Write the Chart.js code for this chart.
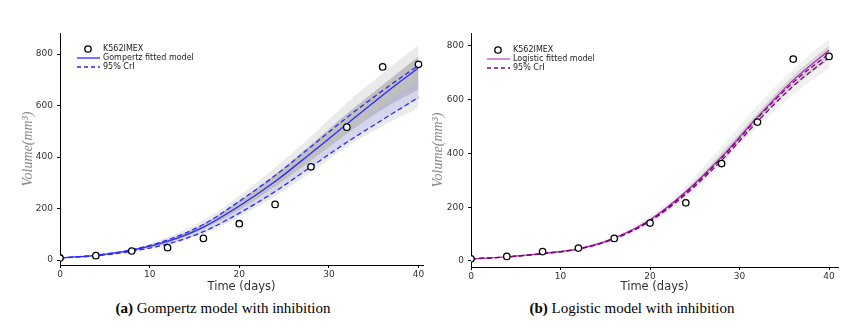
<!DOCTYPE html>
<html>
<head>
<meta charset="utf-8">
<script src="https://cdn.jsdelivr.net/npm/chart.js@4/dist/chart.umd.min.js"></script>
<style>
  body { margin: 0; background: #fff; width: 865px; height: 330px; overflow: hidden; position: relative; }
  .panel { position: absolute; top: 0; }
  .caption { position: absolute; top: 300px; font-family: "Liberation Serif", "Times New Roman", serif; font-size: 15px; color: #000; white-space: nowrap; transform: translateX(-50%); }
</style>
</head>
<body>
<div class="panel" style="left:0px"><canvas id="chartA" width="430" height="300"></canvas></div>
<div class="panel" style="left:430px"><canvas id="chartB" width="435" height="300"></canvas></div>
<div class="caption" style="left:223px"><b>(a)</b> Gompertz model with inhibition</div>
<div class="caption" style="left:632px"><b>(b)</b> Logistic model with inhibition</div>
<script>
// time points (days)
const days = [0, 4, 8, 12, 16, 20, 24, 28, 32, 36, 40];
// observed tumour volume K562IMEX
const observed = [8, 17, 35, 48, 84, 141, 216, 362, 516, 750, 760];
const yTicks = [0, 200, 400, 600, 800];
const xTicks = [0, 10, 20, 30, 40];

// Gompertz fit
const gompFit   = [8, 18, 38, 72, 128, 210, 305, 415, 528, 640, 747];
const gompUpper = [8, 19, 40, 78, 138, 228, 328, 440, 553, 658, 756];
const gompLower = [8, 16, 34, 62, 110, 182, 266, 362, 457, 545, 632];
const gompBandHi  = [9, 21, 43, 88, 155, 250, 358, 480, 610, 725, 835];
const gompBandLo  = [7, 15, 32, 58, 102, 168, 248, 340, 440, 520, 590];
const gompCoreHi  = [8, 19, 40, 80, 140, 230, 332, 448, 568, 680, 790];
const gompCoreLo  = [8, 17, 36, 68, 120, 195, 285, 385, 490, 585, 662];
const gompTintHi  = [8, 17, 37, 68, 118, 196, 285, 385, 495, 600, 700];
const gompTintLo  = [8, 16, 34, 62, 108, 178, 262, 360, 455, 545, 625];

// Logistic fit
const logiFit   = [8, 15, 28, 45, 85, 153, 257, 387, 535, 672, 783];
const logiUpper = [8, 15, 28, 45, 84, 151, 254, 383, 530, 664, 770];
const logiLower = [8, 15, 27, 44, 82, 148, 248, 374, 518, 650, 757];
const logiBandHi = [9, 16, 30, 50, 92, 168, 280, 425, 578, 712, 825];
const logiBandLo = [7, 13, 25, 40, 76, 136, 232, 360, 498, 620, 715];
const logiCoreHi = [8, 15, 29, 47, 88, 158, 265, 402, 550, 688, 800];
const logiCoreLo = [8, 14, 27, 43, 81, 146, 246, 372, 515, 646, 748];

const pts = arr => days.map((d, i) => ({ x: d, y: arr[i] }));

// small legend drawn inside the plot area (canvas coords)
const miniLegend = {
  id: 'miniLegend',
  afterDatasetsDraw(chart) {
    const o = chart.options.plugins.miniLegend;
    if (!o) return;
    const c = chart.ctx;
    c.save();
    c.font = '8px "DejaVu Sans", sans-serif';
    c.textBaseline = 'middle';
    // circle marker
    c.beginPath();
    c.arc(o.x + 11, o.y, 3.2, 0, Math.PI * 2);
    c.fillStyle = '#fff';
    c.fill();
    c.lineWidth = 1.3;
    c.strokeStyle = '#000';
    c.stroke();
    c.fillStyle = '#222';
    c.fillText(o.labels[0], o.x + 26, o.y);
    // solid line
    c.strokeStyle = o.solid;
    c.lineWidth = 1.3;
    c.beginPath();
    c.moveTo(o.x, o.y + 9); c.lineTo(o.x + 23, o.y + 9); c.stroke();
    c.fillText(o.labels[1], o.x + 26, o.y + 9);
    // dashed line
    c.strokeStyle = o.dashed;
    c.setLineDash([4, 3]);
    c.beginPath();
    c.moveTo(o.x, o.y + 18); c.lineTo(o.x + 23, o.y + 18); c.stroke();
    c.setLineDash([]);
    c.fillText(o.labels[2], o.x + 26, o.y + 18);
    c.restore();
  }
};

// filled ribbon between two edge arrays (drawn underneath)
function band(hi, lo, color, order) {
  return [
    { data: pts(hi), order, showLine: true, borderWidth: 0, pointRadius: 0, fill: '+1', backgroundColor: color, cubicInterpolationMode: 'monotone' },
    { data: pts(lo), order, showLine: true, borderWidth: 0, pointRadius: 0, fill: false, cubicInterpolationMode: 'monotone' }
  ];
}

function curve(arr, color, dash) {
  return { data: pts(arr), order: 2, showLine: true, borderColor: color, borderWidth: 1.3, borderDash: dash || [], pointRadius: 0, fill: false, cubicInterpolationMode: 'monotone' };
}

function makeChart(id, cfg) {
  return new Chart(document.getElementById(id), {
    type: 'scatter',
    data: { datasets: cfg.datasets },
    options: {
      responsive: false,
      animation: false,
      devicePixelRatio: 1,
      layout: { padding: { top: 33, right: cfg.padRight, left: 0, bottom: 0 } },
      plugins: {
        legend: { display: false },
        tooltip: { enabled: false },
        miniLegend: cfg.legend
      },
      scales: {
        x: {
          type: 'linear', min: 0, max: cfg.xMax,
          afterFit: s => { s.height = cfg.xAxisH; },
          afterBuildTicks: a => { a.ticks = xTicks.map(v => ({ value: v })); },
          grid: { drawOnChartArea: false, tickLength: 3, color: '#000' },
          border: { color: '#000', width: 1 },
          ticks: { color: '#333', padding: 1, font: { family: 'DejaVu Sans', size: 9 } },
          title: { display: true, text: 'Time (days)', color: '#333', padding: { top: 0, bottom: 6 }, font: { family: 'DejaVu Sans', size: 11.5 } }
        },
        y: {
          type: 'linear', min: cfg.yMin, max: cfg.yMax,
          afterFit: s => { s.width = cfg.yAxisW; },
          afterBuildTicks: a => { a.ticks = yTicks.map(v => ({ value: v })); },
          grid: { drawOnChartArea: false, tickLength: 3, color: '#000' },
          border: { color: '#000', width: 1 },
          ticks: { color: '#333', padding: 4, font: { family: 'DejaVu Sans', size: 9 } },
          title: { display: true, text: 'Volume(mm³)', color: '#888', padding: { top: cfg.titlePad, bottom: 0 }, font: { family: 'Liberation Serif', size: 14, style: 'italic' } }
        }
      }
    },
    plugins: [miniLegend]
  });
}

function observedSet() {
  return {
    data: pts(observed), order: 0, showLine: false, pointRadius: 3.2, pointBorderWidth: 1.3,
    pointBorderColor: '#000', pointBackgroundColor: '#fff'
  };
}

makeChart('chartA', {
  padRight: 7, xMax: 40.5, yMin: -19.4, yMax: 881.6, xAxisH: 35, yAxisW: 60, titlePad: 20,
  legend: { x: 77, y: 49, solid: '#2a2aff', dashed: '#2a2aff', labels: ['K562IMEX', 'Gompertz fitted model', '95% CrI'] },
  datasets: [
    ...band(gompBandHi, gompBandLo, 'rgba(150,150,150,0.2)', 12),
    ...band(gompCoreHi, gompCoreLo, 'rgba(140,140,140,0.45)', 11),
    ...band(gompTintHi, gompTintLo, 'rgba(175,175,240,0.35)', 10),
    curve(gompUpper, '#2a2aff', [5, 3]),
    curve(gompLower, '#2a2aff', [5, 3]),
    curve(gompFit, '#2a2aff'),
    observedSet()
  ]
});

makeChart('chartB', {
  padRight: 27, xMax: 41, yMin: -22.3, yMax: 847, xAxisH: 33, yAxisW: 41, titlePad: 0,
  legend: { x: 57, y: 50, solid: '#c050c8', dashed: '#800080', labels: ['K562IMEX', 'Logistic fitted model', '95% CrI'] },
  datasets: [
    ...band(logiBandHi, logiBandLo, 'rgba(160,160,160,0.15)', 12),
    ...band(logiCoreHi, logiCoreLo, 'rgba(150,150,150,0.30)', 11),
    curve(logiUpper, '#800080', [5, 3]),
    curve(logiLower, '#800080', [5, 3]),
    curve(logiFit, '#b030b8'),
    observedSet()
  ]
});
</script>
</body>
</html>
